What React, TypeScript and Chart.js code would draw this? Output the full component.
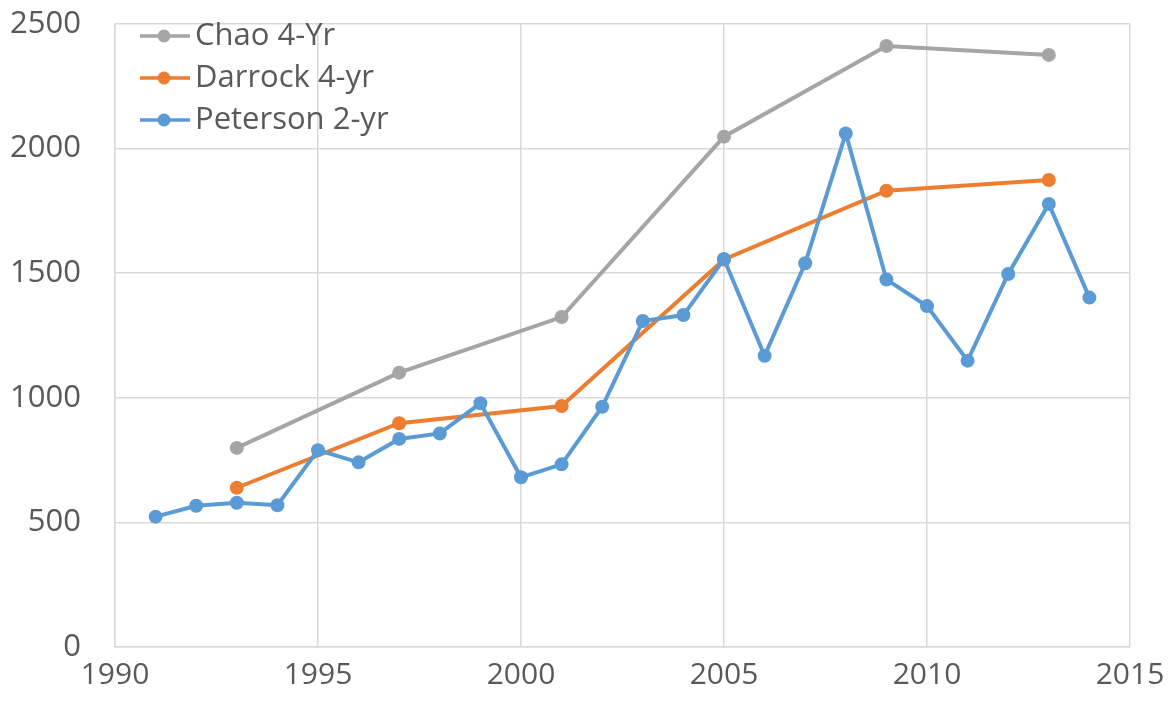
import React, { useEffect, useRef } from "react";
import { Chart, registerables } from "chart.js";

Chart.register(...registerables);

const chaoYears = [1993, 1997, 2001, 2005, 2009, 2013];
const chaoValues = [799, 1101, 1324, 2048, 2412, 2376];

const darrockYears = [1993, 1997, 2001, 2005, 2009, 2013];
const darrockValues = [639, 898, 967, 1555, 1831, 1874];

const petersonYears = [1991, 1992, 1993, 1994, 1995, 1996, 1997, 1998, 1999, 2000, 2001, 2002, 2003, 2004, 2005, 2006, 2007, 2008, 2009, 2010, 2011, 2012, 2013, 2014];
const petersonValues = [523, 567, 579, 569, 790, 741, 835, 857, 978, 681, 733, 964, 1308, 1332, 1557, 1169, 1540, 2061, 1475, 1368, 1149, 1497, 1778, 1402];

const seriesLabels = ["Chao 4-Yr", "Darrock 4-yr", "Peterson 2-yr"];
const seriesColors = ["#A5A5A5", "#ED7D31", "#5B9BD5"];

const FONT = "'Open Sans', 'Liberation Sans', sans-serif";
const TEXT = "#595959";
const GRID = "#D9D9D9";

const pts = (xs: number[], ys: number[]) => xs.map((x, i) => ({ x, y: ys[i] }));

const insideLegend = {
  id: "insideLegend",
  afterDraw(chart: any) {
    const ctx = chart.ctx;
    const area = chart.chartArea;
    const x0 = area.left + 25;
    const y0 = area.top + 12;
    const gap = 42;
    ctx.save();
    ctx.font = `31px ${FONT}`;
    ctx.textBaseline = "middle";
    chart.data.datasets.forEach((ds: any, i: number) => {
      const y = y0 + i * gap;
      ctx.strokeStyle = ds.borderColor;
      ctx.lineWidth = 3.5;
      ctx.beginPath();
      ctx.moveTo(x0, y);
      ctx.lineTo(x0 + 50, y);
      ctx.stroke();
      ctx.fillStyle = ds.borderColor;
      ctx.beginPath();
      ctx.arc(x0 + 24, y, 6.5, 0, Math.PI * 2);
      ctx.fill();
      ctx.fillStyle = TEXT;
      ctx.fillText(ds.label, x0 + 55, y);
    });
    ctx.restore();
  },
};

export default function App() {
  const ref = useRef<HTMLCanvasElement>(null);
  useEffect(() => {
    document.body.style.margin = "0";
    const c = ref.current!;
    const mk = (i: number, data: any[], order: number) => ({
      label: seriesLabels[i],
      data,
      borderColor: seriesColors[i],
      backgroundColor: seriesColors[i],
      borderWidth: 4,
      pointRadius: 7,
      pointHoverRadius: 7,
      pointBorderWidth: 0,
      tension: 0,
      order,
    });
    const chart = new Chart(c, {
      type: "line",
      data: {
        datasets: [
          mk(0, pts(chaoYears, chaoValues), 2),
          mk(1, pts(darrockYears, darrockValues), 1),
          mk(2, pts(petersonYears, petersonValues), 0),
        ],
      },
      options: {
        animation: false,
        responsive: false,
        maintainAspectRatio: false,
        layout: { padding: { top: 24, right: 40, left: 0, bottom: 0 } },
        plugins: { legend: { display: false }, tooltip: { enabled: false } },
        scales: {
          x: {
            type: "linear",
            min: 1990,
            max: 2015,
            ticks: {
              stepSize: 5,
              color: TEXT,
              font: { family: FONT, size: 30 },
              padding: 10,
              maxRotation: 0,
              callback: (v: any) => String(v),
            },
            grid: { color: GRID, lineWidth: 1.5, drawTicks: false },
            border: { color: GRID, width: 1.5 },
            afterFit: (s: any) => {
              s.height = 65;
              s.paddingLeft = 0;
              s.paddingRight = 0;
            },
          },
          y: {
            min: 0,
            max: 2500,
            ticks: {
              stepSize: 500,
              color: TEXT,
              font: { family: FONT, size: 31 },
              padding: 34,
              callback: (v: any) => String(v),
            },
            grid: { color: GRID, lineWidth: 1.5, drawTicks: false },
            border: { color: GRID, width: 1.5 },
            afterFit: (s: any) => {
              s.width = 115;
              s.paddingTop = 0;
              s.paddingBottom = 0;
            },
          },
        },
      },
      plugins: [insideLegend],
    });
    return () => chart.destroy();
  }, []);
  return (
    <div style={{ width: 1170, height: 712, background: "#fff" }}>
      <canvas ref={ref} width={1170} height={712} style={{ display: "block" }} />
    </div>
  );
}
